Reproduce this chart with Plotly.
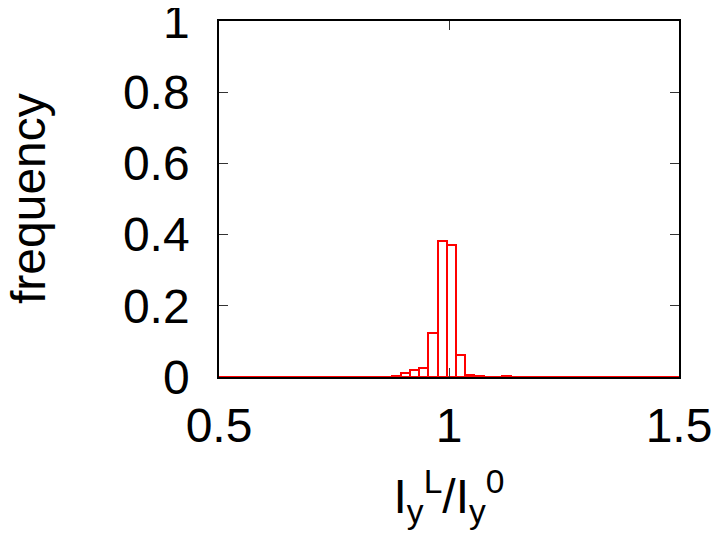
import plotly.graph_objects as go

# histogram of I_y^L / I_y^0 (bin width 0.02), only non-empty bins listed
bin_centers = [0.885, 0.905, 0.925, 0.945, 0.965, 0.985, 1.005, 1.025, 1.045, 1.065, 1.125]
frequency = [0.004, 0.010, 0.019, 0.024, 0.123, 0.382, 0.371, 0.062, 0.007, 0.004, 0.004]
bin_width = 0.02

x_ticks = [0.5, 1, 1.5]
y_ticks = [0, 0.2, 0.4, 0.6, 0.8, 1]

font = "Liberation Sans, Arial, Helvetica, sans-serif"

fig = go.Figure(go.Bar(
    x=bin_centers,
    y=frequency,
    width=bin_width,
    marker=dict(color="rgba(0,0,0,0)", line=dict(color="#ff0000", width=2)),
    showlegend=False,
))

axis_common = dict(
    showline=True, linecolor="black", linewidth=1.5, mirror="ticks",
    ticks="inside", ticklen=9, tickwidth=1, tickcolor="#333",
    showgrid=False, automargin=False, ticklabeloverflow="allow",
    tickfont=dict(family=font, size=48, color="black"),
)

# page body adds an 8px offset, margins compensate for it
fig.update_layout(
    width=720, height=540,
    paper_bgcolor="white", plot_bgcolor="white",
    margin=dict(l=211, r=49, t=13, b=171),
    font=dict(family=font, color="black"),
    bargap=0,
    xaxis=dict(
        range=[0.5, 1.5], tickvals=x_ticks, ticktext=["0.5", "1", "1.5"],
        zeroline=False, ticklabelstandoff=6,
        title=dict(text="I<sub>y</sub><sup>L</sup>/I<sub>y</sub><sup>0</sup>",
                   font=dict(family=font, size=48), standoff=28),
        **axis_common,
    ),
    yaxis=dict(
        range=[0, 1], tickvals=y_ticks, ticktext=["0", "0.2", "0.4", "0.6", "0.8", "1"],
        zeroline=True, zerolinecolor="#ff0000", zerolinewidth=2, ticklabelstandoff=18,
        **axis_common,
    ),
)

# y title as annotation so it can sit close to the page edge
fig.add_annotation(
    text="frequency", xref="paper", yref="paper", x=0, y=0.5, xshift=-191,
    textangle=-90, showarrow=False, xanchor="center", yanchor="middle",
    font=dict(family=font, size=48, color="black"),
)

fig.write_html("out.html")
